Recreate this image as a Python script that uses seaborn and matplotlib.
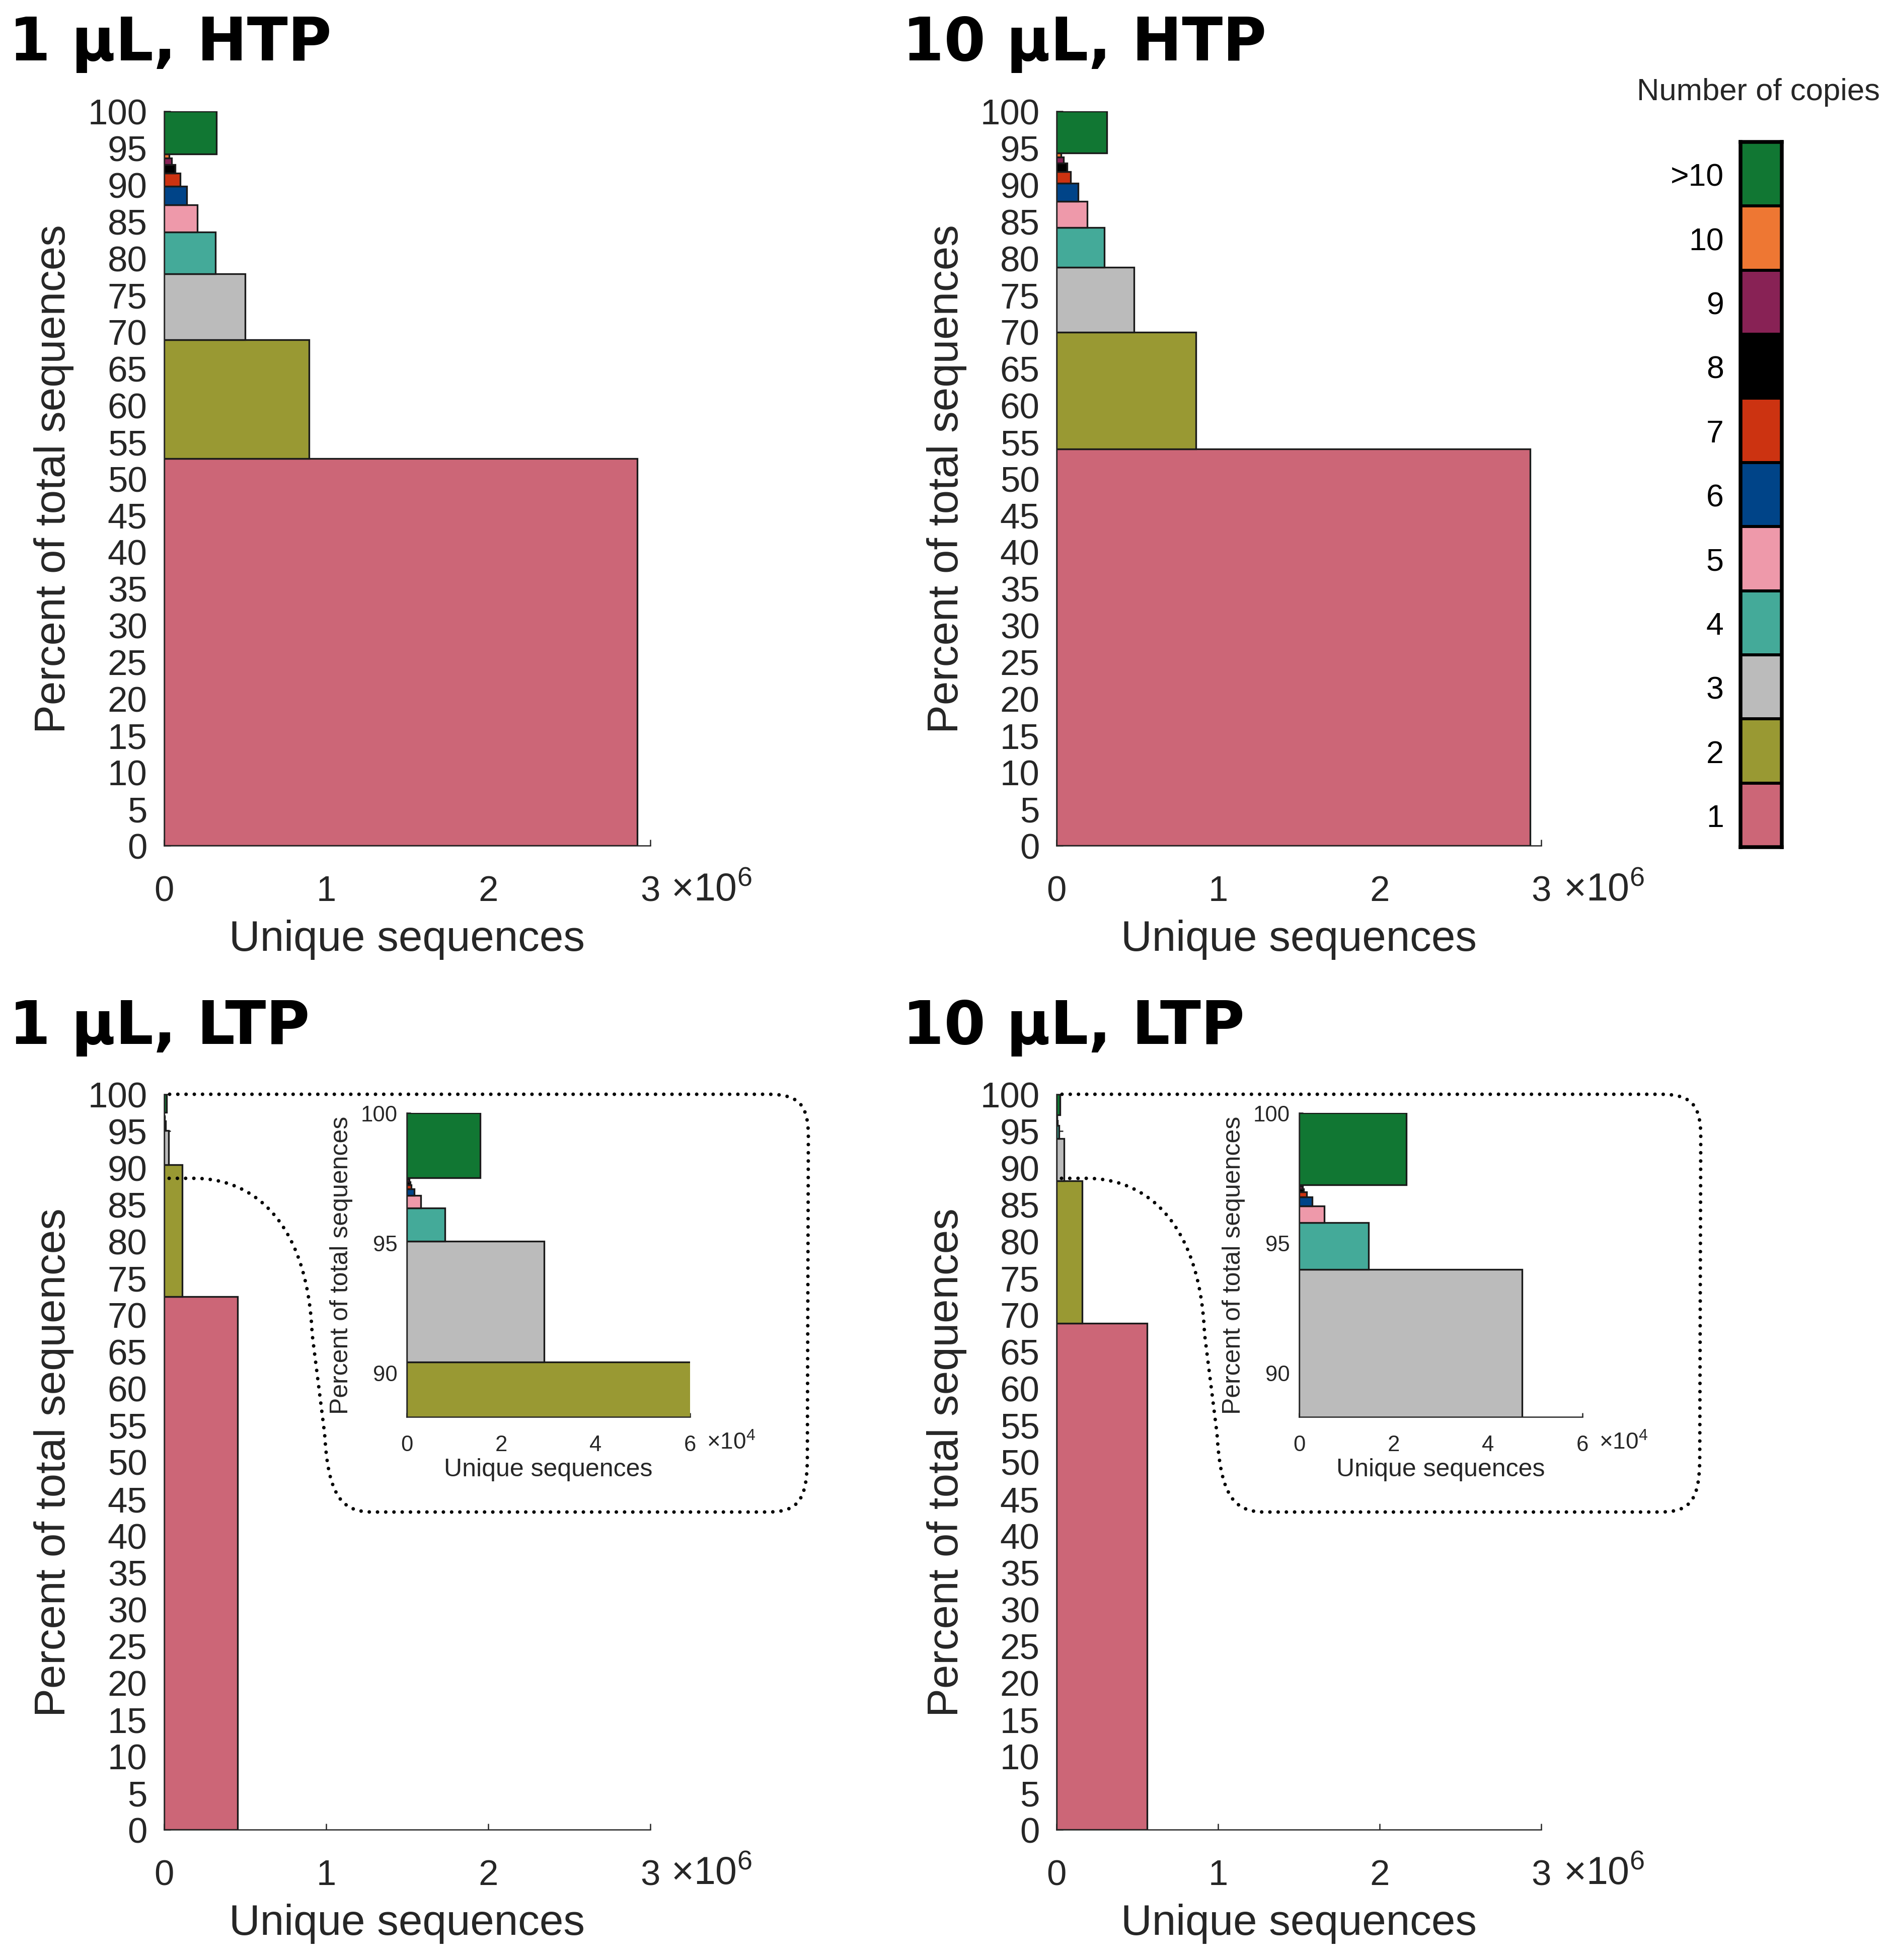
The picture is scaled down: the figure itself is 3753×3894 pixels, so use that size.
import numpy as np
import pandas as pd
import matplotlib
matplotlib.use("Agg")
import matplotlib.pyplot as plt
from matplotlib.colors import ListedColormap
from matplotlib.path import Path
from matplotlib.patches import PathPatch
import seaborn as sns

W, H, DPI = 3753, 3895, 300

COPY_LABELS = ["1", "2", "3", "4", "5", "6", "7", "8", "9", "10", ">10"]
COPY_COLORS = ["#CC6677", "#999933", "#BBBBBB", "#44AA99", "#EE99AA", "#004488",
               "#CC3311", "#000000", "#882255", "#EE7733", "#117733"]

# unique sequences in each copy-number class (1, 2, ..., 10, >10)
htp_1ul = [2919000, 895000, 499000, 316000, 204000, 139000, 99000, 67000, 48000, 31000, 322000]
htp_10ul = [2930000, 862000, 479000, 296000, 191000, 134000, 86000, 65000, 43000, 29000, 310000]
ltp_1ul = [454000, 112500, 29100, 8100, 3000, 1600, 950, 750, 550, 450, 15600]
ltp_10ul = [562000, 158000, 47200, 14700, 5300, 2750, 1580, 1000, 700, 500, 22650]

PANEL_TITLES = ["1 \u00b5L, HTP", "10 \u00b5L, HTP", "1 \u00b5L, LTP", "10 \u00b5L, LTP"]

INK = "#262626"
EDGE = "#1a1a1a"

sns.set_style("ticks")
plt.rcParams["font.family"] = ["Liberation Sans", "DejaVu Sans"]
plt.rcParams["mathtext.fontset"] = "custom"
plt.rcParams["mathtext.rm"] = "Liberation Sans"
plt.rcParams["mathtext.it"] = "Liberation Sans:italic"
plt.rcParams["mathtext.bf"] = "Liberation Sans:bold"


def box(l, t, r, b):
    return [l / W, 1 - b / H, (r - l) / W, (b - t) / H]


def fpt(x, y):
    return (x / W, 1 - y / H)


def draw_stack(ax, counts):
    counts = np.asarray(counts, dtype=float)
    pct = counts / counts.sum() * 100
    tops = np.cumsum(pct)
    bots = tops - pct
    for k in range(len(counts)):
        seg = pd.DataFrame({"pct": [(bots[k] + tops[k]) / 2], "n": [counts[k]]})
        sns.histplot(data=seg, y="pct", weights="n", bins=[bots[k], tops[k]],
                     color=COPY_COLORS[k], alpha=1, edgecolor=EDGE, linewidth=0.8, ax=ax)


def style_axes(ax, xmax, ymin, yticks, tsize, lsize, xpad, ypad, xlab_y, ylab_x, tlen):
    ax.set_xlim(0, xmax)
    ax.set_ylim(ymin, 100)
    ax.set_xticks(np.linspace(0, xmax, 4), ["0", "1", "2", "3"] if xmax > 1e6 else ["0", "2", "4", "6"])
    ax.set_yticks(yticks)
    ax.tick_params(direction="in", length=tlen, width=0.6, color=INK, labelcolor=INK, labelsize=tsize)
    ax.tick_params(axis="x", pad=xpad)
    ax.tick_params(axis="y", pad=ypad)
    sns.despine(ax=ax)
    for sp in ("left", "bottom"):
        ax.spines[sp].set_color(INK)
        ax.spines[sp].set_linewidth(0.6)
    ax.set_axisbelow(True)
    ax.set_facecolor("white")
    ax.set_xlabel("Unique sequences", fontsize=lsize, color=INK)
    ax.set_ylabel("Percent of total sequences", fontsize=lsize, color=INK)
    ax.xaxis.set_label_coords(0.5, xlab_y)
    ax.yaxis.set_label_coords(ylab_x, 0.5)


fig = plt.figure(figsize=(W / DPI, H / DPI), dpi=DPI)
fig.patch.set_facecolor("white")

panels = [
    (htp_1ul, box(326, 222, 1292, 1681), 0, 0),
    (htp_10ul, box(2099, 222, 3062, 1681), 1773, 0),
    (ltp_1ul, box(326, 2175, 1292, 3636), 0, 1954),
    (ltp_10ul, box(2099, 2175, 3062, 3636), 1773, 1954),
]
title_x = [18, 1793, 18, 1793]

for i, (counts, rect, dx, dy) in enumerate(panels):
    ax = fig.add_axes(rect)
    draw_stack(ax, counts)
    style_axes(ax, 3e6, 0, np.arange(0, 101, 5), 17, 20.5, 14, 8, -0.1, -0.185, 3)
    fig.text(*fpt(1333 + dx, 1790 + dy), r"$\mathregular{\times10^{6}}$", fontsize=18.5,
             color=INK, ha="left", va="baseline")
    fig.text(*fpt(title_x[i], 120 + dy), PANEL_TITLES[i], fontsize=28.5, color="black",
             fontweight="bold", family="DejaVu Sans", ha="left", va="baseline")

    if i >= 2:
        # zoomed inset of the top of the stack
        axi = fig.add_axes(box(808 + dx, 2212, 1371 + dx, 2816))
        draw_stack(axi, counts)
        style_axes(axi, 6e4, 88.3, [90, 95, 100], 10.5, 12, 8.5, 4.3, -0.134, -0.19, 2)
        fig.text(*fpt(1404 + dx, 2879), r"$\mathregular{\times10^{4}}$", fontsize=11,
                 color=INK, ha="left", va="baseline")

        # dotted outline linking the stack top to the inset
        pts = [(336, 2342), (385, 2342),
               (520, 2342), (612, 2450), (620, 2650),
               (645, 2850),
               (652, 2975), (680, 3005), (740, 3005),
               (1525, 3005),
               (1587, 3005), (1603, 2980), (1604, 2900),
               (1606, 2260),
               (1606, 2195), (1587, 2175), (1525, 2175),
               (333, 2175)]
        codes = [Path.MOVETO, Path.LINETO,
                 Path.CURVE4, Path.CURVE4, Path.CURVE4,
                 Path.LINETO,
                 Path.CURVE4, Path.CURVE4, Path.CURVE4,
                 Path.LINETO,
                 Path.CURVE4, Path.CURVE4, Path.CURVE4,
                 Path.LINETO,
                 Path.CURVE4, Path.CURVE4, Path.CURVE4,
                 Path.LINETO]
        verts = [fpt(x + dx, y) for x, y in pts]
        patch = PathPatch(Path(verts, codes), transform=fig.transFigure, fill=False,
                          edgecolor="black", linewidth=1.7, linestyle=(0, (0.01, 2.3)),
                          capstyle="round", zorder=5)
        fig.add_artist(patch)

# legend as a one-column heatmap
axl = fig.add_axes(box(3458, 283, 3540, 1684))
vals = np.arange(len(COPY_LABELS))[::-1].reshape(-1, 1)
sns.heatmap(vals, cmap=ListedColormap(COPY_COLORS), vmin=-0.5, vmax=len(COPY_LABELS) - 0.5,
            cbar=False, linewidths=1.0, linecolor="black", xticklabels=False,
            yticklabels=COPY_LABELS[::-1], ax=axl)
axl.tick_params(axis="y", length=0, pad=8, labelsize=15, labelrotation=0, labelcolor="black")
plt.setp(axl.get_yticklabels(), va="center_baseline")
for sp in axl.spines.values():
    sp.set_visible(True)
    sp.set_color("black")
    sp.set_linewidth(1.8)
fig.text(*fpt(3493, 184), "Number of copies", fontsize=14.8, ha="center", va="center")

fig.savefig("out.png", dpi=DPI, facecolor="white")
